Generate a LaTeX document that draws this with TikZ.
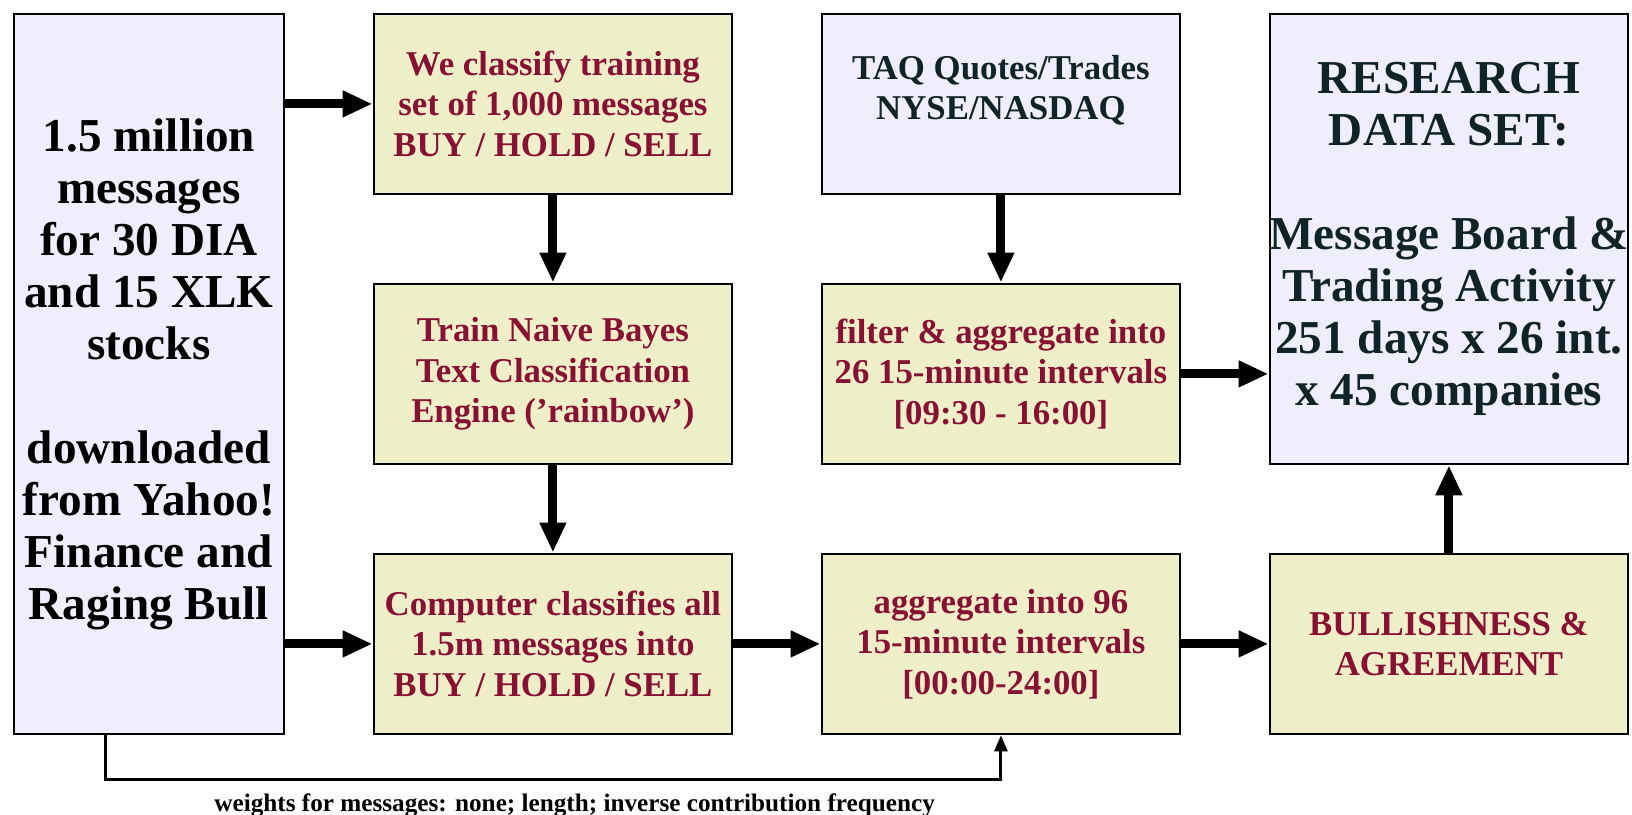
\documentclass[tikz,border=0pt]{standalone}
\usepackage{fontspec}
\setmainfont{Liberation Serif}
\usetikzlibrary{positioning,arrows.meta}
\definecolor{boxblue}{RGB}{238,238,252}
\definecolor{boxyellow}{RGB}{238,238,200}
\definecolor{textred}{RGB}{135,17,52}
\definecolor{textdark}{RGB}{16,36,40}
\tikzset{
>={Triangle[length=15pt,width=12.5pt]},
  databox/.style={
    rectangle,
    fill=boxblue,
    draw=black, line width=1.4pt,
    inner sep=0pt,
    align=center,
    font=\bfseries\fontsize{23.6}{26}\selectfont},
  procbox/.style={
    rectangle,
    fill=boxyellow,
    draw=black, line width=1.4pt,
    minimum width=179pt,
    minimum height=90pt,
    inner sep=0pt,
    align=center,
    text=textred,
    font=\bfseries\fontsize{17.4}{20.25}\selectfont},
  flow/.style={draw, line width=4.5pt, ->},
  weightline/.style={draw, line width=1.5pt, -{Triangle[length=8pt,width=6.5pt]}},
  wnode/.style={font=\bfseries\fontsize{12.6}{14}\selectfont},
}
\begin{document}
\begin{tikzpicture}
  [node distance=43.6pt]
  \useasboundingbox (0,0) rectangle (816pt,-407pt);
  % the raw message boards
  \node[databox, anchor=north west, minimum width=135pt, minimum height=360pt]
      (msgs) at (6.25pt,-6.25pt) {1.5 million\\messages\\for 30 DIA\\and 15 XLK\\stocks\\[26pt]
      downloaded\\from Yahoo!\\Finance and\\Raging Bull};
  % classification column
  \node[procbox, right=of msgs.north east, anchor=north west] (classify)
      {We classify training\\set of 1,000 messages\\BUY / HOLD / SELL};
  \node[procbox, below=of classify] (train)
      {Train Naive Bayes\\Text Classification\\Engine ('rainbow')};
  \node[procbox, below=of train] (comp)
      {Computer classifies all\\1.5m messages into\\BUY / HOLD / SELL};
  % trading data column
  \node[databox, right=of classify, text=textdark, minimum width=179pt, minimum height=90pt,
      font=\bfseries\fontsize{17.4}{20.25}\selectfont] (taq)
      {TAQ Quotes/Trades\\NYSE/NASDAQ\\[-4pt]\mbox{}};
  \node[procbox, below=of taq] (filt)
      {filter \& aggregate into\\26 15-minute intervals\\{[09:30 - 16:00]}};
  \node[procbox, below=of filt] (agg)
      {aggregate into 96\\15-minute intervals\\{[00:00-24:00]}};
  % result column
  \node[databox, right=of taq.north east, anchor=north west, text=textdark,
      minimum width=179pt, minimum height=225pt] (research)
      {RESEARCH\\DATA SET:\\[26pt]\makebox[170pt]{Message Board \&}\\Trading Activity\\251 days x 26 int.\\x 45 companies};
  \node[procbox, right=of agg] (bull) {BULLISHNESS \&\\AGREEMENT};
  % Now the arrows
  \draw[flow] (msgs.east |- classify.west) -- (classify.west);
  \draw[flow] (msgs.east |- comp.west) -- (comp.west);
  \draw[flow] (classify) -- (train);
  \draw[flow] (train) -- (comp);
  \draw[flow] (comp) -- (agg);
  \draw[flow] (taq) -- (filt);
  \draw[flow] (filt.east) -- (filt.east -| research.west);
  \draw[flow] (agg) -- (bull);
  \draw[flow] (bull) -- (research);
  %% weights go straight from the boards to the aggregation
  \draw[weightline] ([xshift=-21.75pt]msgs.south) -- ++(0,-22pt)
    -| node[wnode, pos=0.262, below=3pt] (weights)
       {weights for messages: none; length; inverse contribution frequency} (agg.south);
\end{tikzpicture}
\end{document}
